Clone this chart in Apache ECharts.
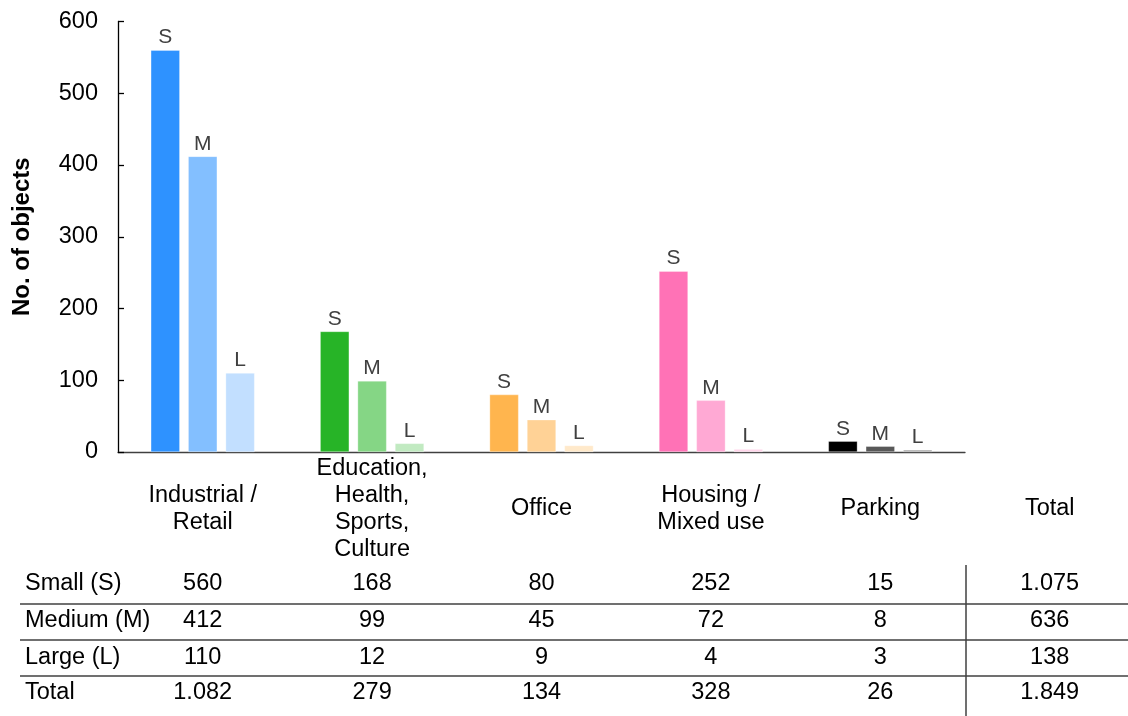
<!DOCTYPE html>
<html lang="en">

<head>
  <meta charset="UTF-8">
  <title>objects-by-use-and-size</title>
  <style type="text/css">
    html, body { margin: 0; padding: 0; background: #fff; }
  </style>
</head>

<body>
  <div id="main" style="width: 1128px;height:716px;"></div>
  <script src="https://cdn.jsdelivr.net/npm/echarts@6/dist/echarts.min.js"></script>
  <script type="text/javascript">

    var categories = ['Industrial /\nRetail', 'Education,\nHealth,\nSports,\nCulture', 'Office', 'Housing /\nMixed use', 'Parking']
    var sizeNames = ['S', 'M', 'L']
    var rowLabels = ['Small (S)', 'Medium (M)', 'Large (L)', 'Total']

    var small = [560, 168, 80, 252, 15]
    var medium = [412, 99, 45, 72, 8]
    var large = [110, 12, 9, 4, 3]
    var colTotals = [1082, 279, 134, 328, 26]
    var rowTotals = [1075, 636, 138, 1849]

    var yTicks = [0, 100, 200, 300, 400, 500, 600]

    var colors = [
      ['#2e92ff', '#83bfff', '#c2dfff'],
      ['#27b427', '#85d685', '#c1eac1'],
      ['#ffb54e', '#ffd296', '#ffe9ca'],
      ['#ff72b6', '#ffa9d4', '#ffd6ea'],
      ['#000000', '#595959', '#a6a6a6']
    ]

    var font = 'Arial, "Liberation Sans", sans-serif'
    var fs = 23.5

    function fmt (n) {
      return String(n).replace(/\B(?=(\d{3})+(?!\d))/g, '.')
    }

    var myChart = echarts.init(document.getElementById('main'))

    var series = [small, medium, large].map(function (values, k) {
      return {
        name: sizeNames[k],
        type: 'bar',
        barWidth: 29,
        barGap: '29%',
        data: values.map(function (v, i) {
          return { value: v, itemStyle: { color: colors[i][k] } }
        }),
        itemStyle: { borderColor: 'rgba(255,255,255,0.6)', borderWidth: 0.5 },
        label: {
          show: true,
          position: 'top',
          distance: 2,
          formatter: sizeNames[k],
          color: '#404040',
          fontSize: 21,
          fontFamily: font
        }
      }
    })

    var option = {
      animation: false,
      grid: {
        left: 118,
        right: 163,
        top: 21.5,
        bottom: 264
      },
      xAxis: {
        type: 'category',
        data: categories,
        axisTick: { show: false },
        axisLine: { lineStyle: { color: '#404040', width: 1.3 } },
        axisLabel: {
          interval: 0,
          margin: 57,
          verticalAlign: 'middle',
          color: '#000',
          fontSize: fs,
          lineHeight: 27,
          fontFamily: font
        }
      },
      yAxis: {
        type: 'value',
        min: yTicks[0],
        max: yTicks[yTicks.length - 1],
        interval: 100,
        name: 'No. of objects',
        nameLocation: 'middle',
        nameGap: 84,
        nameTextStyle: { fontSize: 24, fontWeight: 'bold', color: '#000', fontFamily: font },
        axisLine: { show: true, lineStyle: { color: '#000', width: 1.3 } },
        axisTick: { show: true, inside: true, length: 6, lineStyle: { color: '#000', width: 1.3 } },
        splitLine: { show: false },
        axisLabel: { color: '#000', fontSize: fs, margin: 20, fontFamily: font }
      },
      series: series
    }
    myChart.setOption(option)

    // table under the chart
    var xs = categories.map(function (c, i) {
      return myChart.convertToPixel({ xAxisIndex: 0 }, i)
    })
    var step = xs[1] - xs[0]
    var totalX = xs[xs.length - 1] + step
    var rowY = [584, 621, 658, 693]
    var lineY = [604, 640, 676]
    var graphic = []

    function text (x, y, s, align) {
      graphic.push({
        type: 'text',
        x: x,
        y: y,
        style: {
          text: s,
          align: align || 'center',
          verticalAlign: 'middle',
          fill: '#000',
          fontSize: fs,
          fontFamily: font
        }
      })
    }

    text(totalX, 509, 'Total')
    var rows = [small, medium, large, colTotals]
    rows.forEach(function (vals, r) {
      text(25, rowY[r], rowLabels[r], 'left')
      vals.forEach(function (v, i) {
        text(xs[i], rowY[r], fmt(v))
      })
      text(totalX, rowY[r], fmt(rowTotals[r]))
    })

    lineY.forEach(function (y) {
      graphic.push({
        type: 'line',
        shape: { x1: 20, y1: y, x2: 1128, y2: y },
        style: { stroke: '#404040', lineWidth: 1.5 }
      })
    })
    graphic.push({
      type: 'line',
      shape: { x1: 966, y1: 565, x2: 966, y2: 716 },
      style: { stroke: '#404040', lineWidth: 1.5 }
    })

    myChart.setOption({ graphic: graphic })
  </script>
</body>

</html>
